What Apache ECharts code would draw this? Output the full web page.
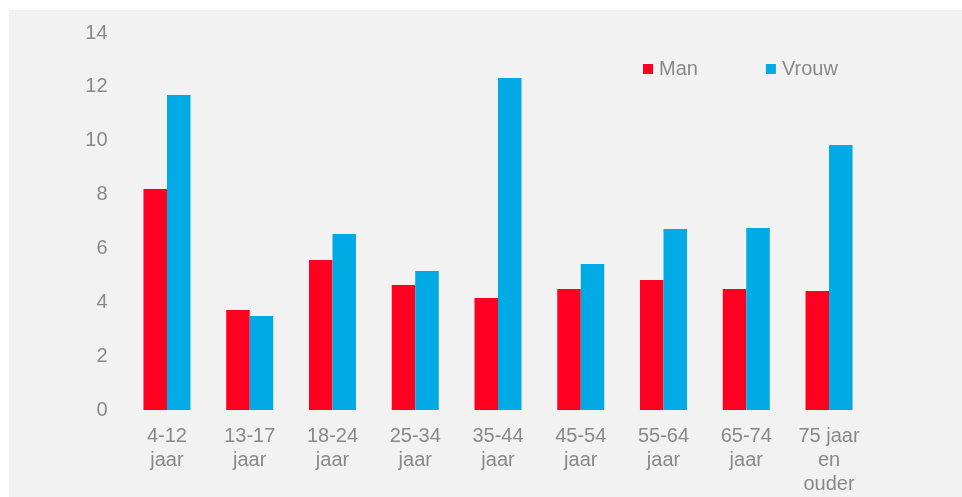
<!DOCTYPE html>
<html>
<head>
<meta charset="utf-8">
<script src="https://cdn.jsdelivr.net/npm/echarts@6/dist/echarts.min.js"></script>
<style>
html,body{margin:0;padding:0;background:#fff;}
#c{width:962px;height:497px;}
</style>
</head>
<body>
<div id="c"></div>
<script>
const categories = ['4-12\njaar','13-17\njaar','18-24\njaar','25-34\njaar','35-44\njaar','45-54\njaar','55-64\njaar','65-74\njaar','75 jaar\nen\nouder'];
const man = [8.21, 3.71, 5.57, 4.64, 4.16, 4.49, 4.83, 4.49, 4.42];
const vrouw = [11.70, 3.49, 6.54, 5.16, 12.33, 5.42, 6.72, 6.76, 9.84];
const seriesNames = ['Man', 'Vrouw'];

const txt = '#898989';
const font = 'Liberation Sans, Arial, sans-serif';
const chart = echarts.init(document.getElementById('c'), null, {renderer:'canvas'});
chart.setOption({
  animation: false,
  textStyle: {fontFamily: font},
  graphic: [{type:'rect', z:-10, silent:true, shape:{x:9, y:10, width:953, height:487}, style:{fill:'#f2f2f2'}}],
  legend: {
    left: 643, top: 59, padding: 0, itemWidth: 10, itemHeight: 10, itemGap: 68,
    icon: 'rect',
    textStyle: {color: txt, fontSize: 20, fontFamily: font, padding:[0,0,0,1]},
    data: seriesNames
  },
  grid: {left: 125.6, right: 91.6, top: 33, bottom: 87, containLabel: false},
  xAxis: {
    type: 'category', data: categories,
    axisLine: {show: false}, axisTick: {show: false},
    axisLabel: {color: txt, fontSize: 20, lineHeight: 24, margin: 14, fontFamily: font, interval: 0}
  },
  yAxis: {
    type: 'value', min: 0, max: 14, interval: 2,
    splitLine: {show: false}, axisLine: {show: false}, axisTick: {show: false},
    axisLabel: {color: txt, fontSize: 20, margin: 18, fontFamily: font}
  },
  series: [
    {name: seriesNames[0], type: 'bar', data: man, barWidth: 23.5, barGap: '0%', itemStyle: {color: '#ff0021'}},
    {name: seriesNames[1], type: 'bar', data: vrouw, barWidth: 23.5, barGap: '0%', itemStyle: {color: '#00abe5'}}
  ]
});
</script>
</body>
</html>
